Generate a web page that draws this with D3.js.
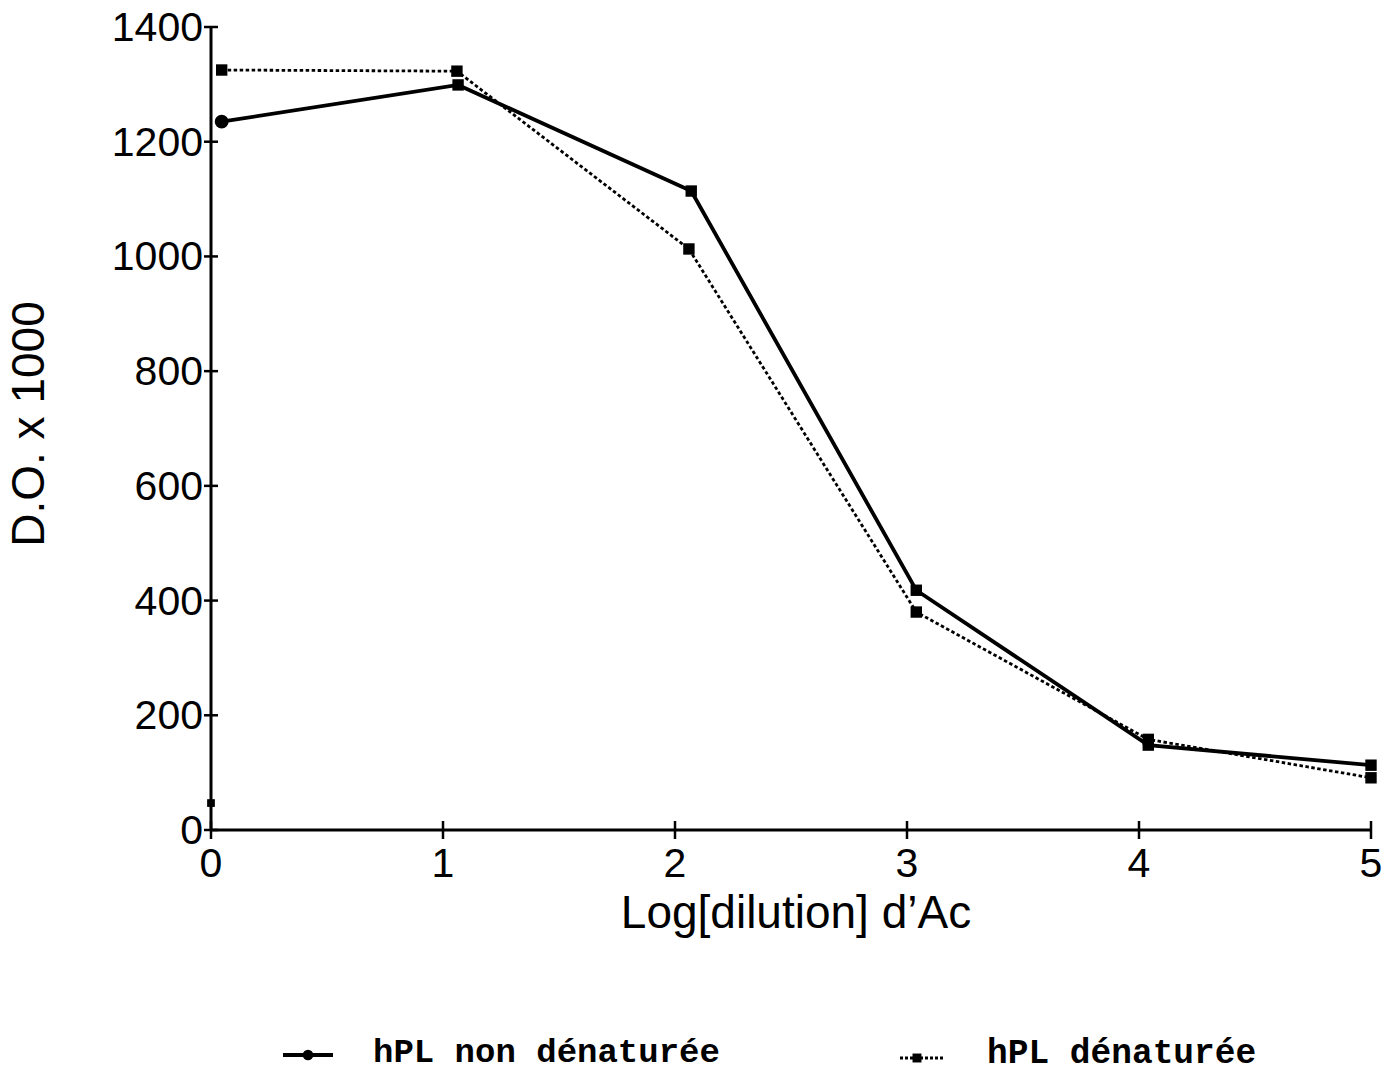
<!DOCTYPE html>
<html><head><meta charset="utf-8">
<script src="https://cdn.jsdelivr.net/npm/d3@7"></script>
<style>body{margin:0;background:#fff}</style>
</head><body>
<svg id="c" width="1397" height="1075"></svg>
<script>
// Data
const seriesNames = ["hPL non dénaturée", "hPL dénaturée"];
const s1X = [0.046, 1.065, 2.07, 3.04, 4.04, 5.0];
const s1Y = [1235, 1299, 1114, 418, 148, 113];
const s1Shape = ["circle", "square", "square", "square", "square", "square"];
const s2X = [0.046, 1.06, 2.06, 3.04, 4.04, 5.0];
const s2Y = [1325, 1323, 1013, 380, 158, 91];
const strayX = [0];
const strayY = [47];
const xTicks = [0, 1, 2, 3, 4, 5];
const yTicks = [0, 200, 400, 600, 800, 1000, 1200, 1400];
const xTitle = "Log[dilution] d’Ac";
const yTitle = "D.O. x 1000";

const svg = d3.select("#c");
svg.append("rect").attr("width", 1397).attr("height", 1075).attr("fill", "#fff");

const x = d3.scaleLinear().domain([0, 5]).range([211, 1371]);
const y = d3.scaleLinear().domain([0, 1400]).range([830, 27]);

const sans = "'Liberation Sans', Arial, sans-serif";

// axes
const g = svg.append("g").attr("stroke", "#000").attr("stroke-width", 3).attr("fill", "none");
g.append("line").attr("x1", x(0)).attr("x2", x(0)).attr("y1", y(1400)).attr("y2", y(0));
g.append("line").attr("x1", x(0)).attr("x2", x(5)).attr("y1", y(0)).attr("y2", y(0));
yTicks.forEach(t => {
  g.append("line").attr("x1", x(0) - 7).attr("x2", x(0) + 7).attr("y1", y(t)).attr("y2", y(t)).attr("stroke-width", 2.5);
});
xTicks.forEach(t => {
  g.append("line").attr("x1", x(t)).attr("x2", x(t)).attr("y1", y(0) - 9).attr("y2", y(0) + 9).attr("stroke-width", 2.5);
});

svg.append("g").selectAll("text").data(yTicks).join("text")
  .attr("x", 203).attr("y", d => y(d) + 14)
  .attr("text-anchor", "end").attr("font-family", sans).attr("font-size", 41)
  .text(d => d);
svg.append("g").selectAll("text").data(xTicks).join("text")
  .attr("x", d => x(d)).attr("y", 877)
  .attr("text-anchor", "middle").attr("font-family", sans).attr("font-size", 41)
  .text(d => d);

svg.append("text").attr("x", 796).attr("y", 928).attr("text-anchor", "middle")
  .attr("font-family", sans).attr("font-size", 46).text(xTitle);
svg.append("text").attr("transform", "translate(44,424) rotate(-90)").attr("text-anchor", "middle")
  .attr("font-family", sans).attr("font-size", 46).text(yTitle);

// lines
const d1 = s1X.map((v, i) => ({x: v, y: s1Y[i], s: s1Shape[i]}));
const d2 = s2X.map((v, i) => ({x: v, y: s2Y[i]}));
const line = d3.line().x(d => x(d.x)).y(d => y(d.y));

svg.append("path").datum(d2).attr("d", line).attr("fill", "none").attr("stroke", "#000")
  .attr("stroke-width", 2.8).attr("stroke-dasharray", "3.5,2.5");
svg.append("path").datum(d1).attr("d", line).attr("fill", "none").attr("stroke", "#000")
  .attr("stroke-width", 3.8);

const sq = d3.symbol().type(d3.symbolSquare).size(130);
const ci = d3.symbol().type(d3.symbolCircle).size(150);
svg.append("g").selectAll("path").data(d2).join("path")
  .attr("transform", d => `translate(${x(d.x)},${y(d.y)})`).attr("d", sq).attr("fill", "#000");
svg.append("g").selectAll("path").data(d1).join("path")
  .attr("transform", d => `translate(${x(d.x)},${y(d.y)})`)
  .attr("d", d => d.s === "circle" ? ci() : sq()).attr("fill", "#000");
svg.append("g").selectAll("path").data(strayX.map((v, i) => ({x: v, y: strayY[i]}))).join("path")
  .attr("transform", d => `translate(${x(d.x)},${y(d.y)})`)
  .attr("d", d3.symbol().type(d3.symbolSquare).size(60)).attr("fill", "#000");

// legend
const mono = "'Liberation Mono', 'Courier New', monospace";
const lg = svg.append("g");
lg.append("line").attr("x1", 283).attr("x2", 333).attr("y1", 1055).attr("y2", 1055)
  .attr("stroke", "#000").attr("stroke-width", 3.8);
lg.append("path").attr("transform", "translate(308,1055)").attr("d", d3.symbol().type(d3.symbolCircle).size(90)).attr("fill", "#000");
lg.append("text").attr("x", 373).attr("y", 1062).attr("font-family", mono).attr("font-weight", "bold")
  .attr("font-size", 34).text(seriesNames[0]);
lg.append("line").attr("x1", 900).attr("x2", 943).attr("y1", 1058).attr("y2", 1058)
  .attr("stroke", "#000").attr("stroke-width", 2.8).attr("stroke-dasharray", "3,2");
lg.append("path").attr("transform", "translate(917,1058)").attr("d", d3.symbol().type(d3.symbolSquare).size(80)).attr("fill", "#000");
lg.append("text").attr("x", 987).attr("y", 1063).attr("font-family", mono).attr("font-weight", "bold")
  .attr("font-size", 34.5).text(seriesNames[1]);
</script>
</body></html>
